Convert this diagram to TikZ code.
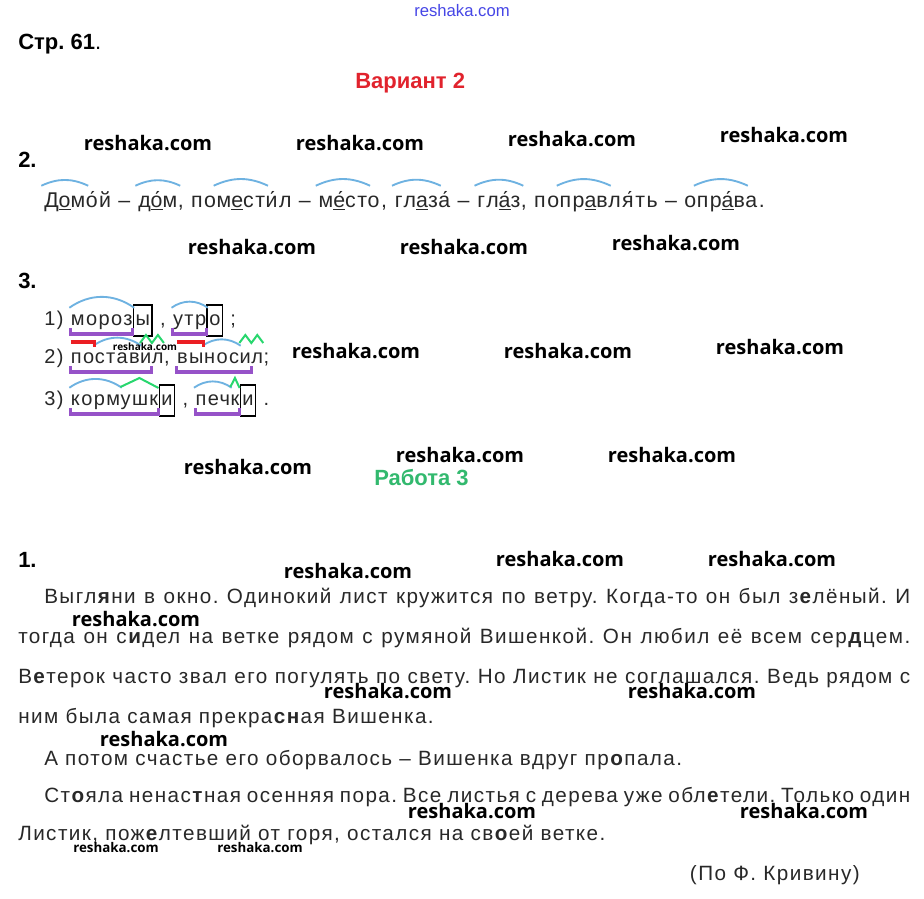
\documentclass[tikz,border=0pt]{standalone}
\usepackage{fontspec}
\setmainfont{Liberation Sans}
\newfontfamily\bodyfam{Liberation Sans}[LetterSpace=7]
\newfontfamily\wmfont{Open Sans}
\usepackage{tikz}
\usetikzlibrary{%
calc,
positioning
}
\frenchspacing
\newdimen\px
\px=0.75pt
\newcommand\bodysize{\bodyfam\fontsize{15.5pt}{17pt}\selectfont}
\newcommand\wordsize{\bodyfam\fontsize{16pt}{18pt}\selectfont}
\newcommand\morphsize{\bodyfam\fontsize{15pt}{17pt}\selectfont}
\newcommand\headsize{\fontsize{16.5pt}{19pt}\selectfont\bfseries}
\newcommand\tsp{\ \null}% space that survives the end of a node
\definecolor{ink}{RGB}{40,40,40}
\definecolor{arcblue}{RGB}{110,178,225}
\definecolor{stemviolet}{RGB}{150,82,200}
\definecolor{prefred}{RGB}{235,30,35}
\definecolor{suffgreen}{RGB}{40,215,110}
\definecolor{varred}{RGB}{225,35,45}
\definecolor{workgreen}{RGB}{50,185,110}
\definecolor{siteblue}{RGB}{70,70,230}

\begin{document}
\begin{tikzpicture}[x=0.75pt,y=-0.75pt,
  txt/.style={inner sep=0pt,anchor=base west,font=\bodysize,text=ink},
  head/.style={inner sep=0pt,anchor=base west,font=\headsize},
  sq/.style={txt,font=\wordsize,text height=15.75pt,text depth=4pt},
  mt/.style={txt,font=\morphsize},
  rt/.style={mt,text height=12.75pt,text depth=4pt},
  endbox/.style={mt,draw=black,line width=1.2pt,inner xsep=1.5pt,inner ysep=0pt,
    text height=15pt,text depth=8.25pt},
  rootarc/.style={draw=arcblue,line width=1.4pt},
  stemline/.style={draw=stemviolet,line width=2.3pt},
  prefmark/.style={draw=prefred,line width=2.3pt},
  suffmark/.style={draw=suffgreen,line width=1.5pt,line join=miter},
  wm/.style={inner sep=0pt,font=\wmfont\bfseries\fontsize{15pt}{17pt}\selectfont},
  wmsmall/.style={wm,font=\wmfont\bfseries\fontsize{#1}{10pt}\selectfont}
]
\fill[white] (0,0) rectangle (924,899);
\useasboundingbox (0,0) rectangle (924,899);

% headings
\node[inner sep=0pt,text=siteblue,font=\fontsize{12.5pt}{14pt}\selectfont] (site) at (462,11) {reshaka.com};
\node[head] (page) at (18,50) {Стр. 61\textmd{.}};
\node[head,text=varred] (var) at (355,89) {Вариант 2};
\node[head] (n2) at (18,167) {2.};
\node[head] (n3) at (18,288) {3.};
\node[head,text=workgreen] (work) at (374,485) {Работа 3};
\node[head] (n1) at (18,567) {1.};

% task 2: roots with arcs
\node[sq] (d1) at (44,207) {Д\underline{о}м};
\node[sq] (d2) at (d1.base east) {о́й –\tsp};
\node[sq] (d3) at (d2.base east) {д\underline{о́}м};
\node[sq] (d4) at (d3.base east) {, по};
\node[sq] (d5) at (d4.base east) {м\underline{е}ст};
\node[sq] (d6) at (d5.base east) {и́л –\tsp};
\node[sq] (d7) at (d6.base east) {м\underline{е́}ст};
\node[sq] (d8) at (d7.base east) {о,\tsp};
\node[sq] (d9) at (d8.base east) {гл\underline{а}з};
\node[sq] (d10) at (d9.base east) {а́ –\tsp};
\node[sq] (d11) at (d10.base east) {гл\underline{а́}з};
\node[sq] (d12) at (d11.base east) {, по};
\node[sq] (d13) at (d12.base east) {пр\underline{а}в};
\node[sq] (d14) at (d13.base east) {ля́ть –\ о};
\node[sq] (d15) at (d14.base east) {пр\underline{а́}в};
\node[sq] (d16) at (d15.base east) {а.};
\foreach \r in {d1,d3,d5,d7,d9,d11,d13,d15}
  \draw[rootarc] ([xshift=-2pt]\r.north west) to[bend left=25] ([xshift=2pt]\r.north east);

% task 3, row 1
\node[mt] (a0) at (44,325) {1)\tsp};
\node[rt] (a1) at (a0.base east) {мороз};
\node[endbox] (a2) at (a1.base east) {ы};
\node[mt] (a3) at (a2.base east) {\ ,\tsp};
\node[rt] (a4) at (a3.base east) {утр};
\node[endbox] (a5) at (a4.base east) {о};
\node[mt] (a6) at (a5.base east) {\ ;};

% row 2
\node[mt] (b0) at (44,363) {2)\tsp};
\node[rt] (b1) at (b0.base east) {по};
\node[rt] (b2) at (b1.base east) {став};
\node[rt] (b3) at (b2.base east) {и};
\node[rt] (b4) at (b3.base east) {л};
\node[mt] (b5) at (b4.base east) {,\tsp};
\node[rt] (b6) at (b5.base east) {вы};
\node[rt] (b7) at (b6.base east) {нос};
\node[rt] (b8) at (b7.base east) {и};
\node[rt] (b9) at (b8.base east) {л};
\node[mt] (b10) at (b9.base east) {;};

% row 3
\node[mt] (c0) at (44,405) {3)\tsp};
\node[rt] (c1) at (c0.base east) {корм};
\node[rt] (c2) at (c1.base east) {ушк};
\node[endbox] (c3) at (c2.base east) {и};
\node[mt] (c4) at (c3.base east) {\ ,\tsp};
\node[rt] (c5) at (c4.base east) {печ};
\node[rt] (c6) at (c5.base east) {к};
\node[endbox] (c7) at (c6.base east) {и};
\node[mt] (c8) at (c7.base east) {\ .};

% roots
\foreach \r in {a1,a4,b2,b7,c1,c5}
  \draw[rootarc] ([xshift=-1pt]\r.north west) to[bend left=35] ([xshift=1pt]\r.north east);
% stems
\foreach \s/\e in {a1/a1,a4/a4,b1/b3,b6/b8,c1/c2,c5/c6}
  \draw[stemline] ($(\s.base west)+(0,3)$) -- ++(0,6) -| ($(\e.base east)+(0,3)$);
% prefixes
\foreach \p in {b1,b6}
  \draw[prefmark] ($(\p.base west)+(0,-21)$) -| ($(\p.base east)+(0,-16)$);
% suffixes
\foreach \s/\e in {b3/b4,b8/b9}
  \draw[suffmark] ($(\s.base west)+(0,-20)$) -- ($(\s.base west)!.25!(\e.base east)+(0,-28)$)
    -- ($(\s.base west)!.5!(\e.base east)+(0,-20)$) -- ($(\s.base west)!.75!(\e.base east)+(0,-28)$)
    -- ($(\e.base east)+(0,-20)$);
\foreach \s in {c2,c6}
  \draw[suffmark] ($(\s.base west)+(0,-18)$) -- ($(\s.base west)!0.5!(\s.base east)+(0,-27)$)
    -- ($(\s.base east)+(0,-17)$);

% text of work 3
\node[txt] (l1) at (44,603) {\makebox[866\px][s]{Выгл\textbf{я}ни в окно. Одинокий лист кружится по ветру. Когда-то он был з\textbf{е}лёный. И}};
\node[txt] (l2) at (18,643) {\makebox[892\px][s]{тогда он с\textbf{и}дел на ветке рядом с румяной Вишенкой. Он любил её всем сер\textbf{д}цем.}};
\node[txt] (l3) at (18,683) {\makebox[892\px][s]{В\textbf{е}терок часто звал его погулять по свету. Но Листик не соглашался. Ведь рядом с}};
\node[txt] (l4) at (18,723) {ним была самая прекра\textbf{сн}ая Вишенка.};
\node[txt] (l5) at (44,765) {А потом счастье его оборвалось – Вишенка вдруг пр\textbf{о}пала.};
\node[txt] (l6) at (44,802) {\makebox[866\px][s]{Ст\textbf{о}яла ненас\textbf{т}ная осенняя пора. Все листья с дерева уже обл\textbf{е}тели. Только один}};
\node[txt] (l7) at (18,840) {Листик, пож\textbf{е}лтевший от горя, остался на св\textbf{о}ей ветке.};
\node[txt,anchor=base east] (src) at (860,880) {(По Ф. Кривину)};

% watermarks
\foreach \x/\y [count=\i] in {148/143,360/143,572/139,784/135,252/247,464/247,676/243,
    356/351,568/351,780/347,248/467,460/455,672/455,348/571,560/559,772/559,
    136/619,388/691,692/691,164/739,472/811,804/811}
  \node[wm] (wm\i) at (\x,\y) {reshaka.com};
\node[wmsmall=7.5pt] (wms1) at (145,347) {reshaka.com};
\node[wmsmall=10pt] (wms2) at (116,848) {reshaka.com};
\node[wmsmall=10pt] (wms3) at (260,848) {reshaka.com};
\end{tikzpicture}
\end{document}
